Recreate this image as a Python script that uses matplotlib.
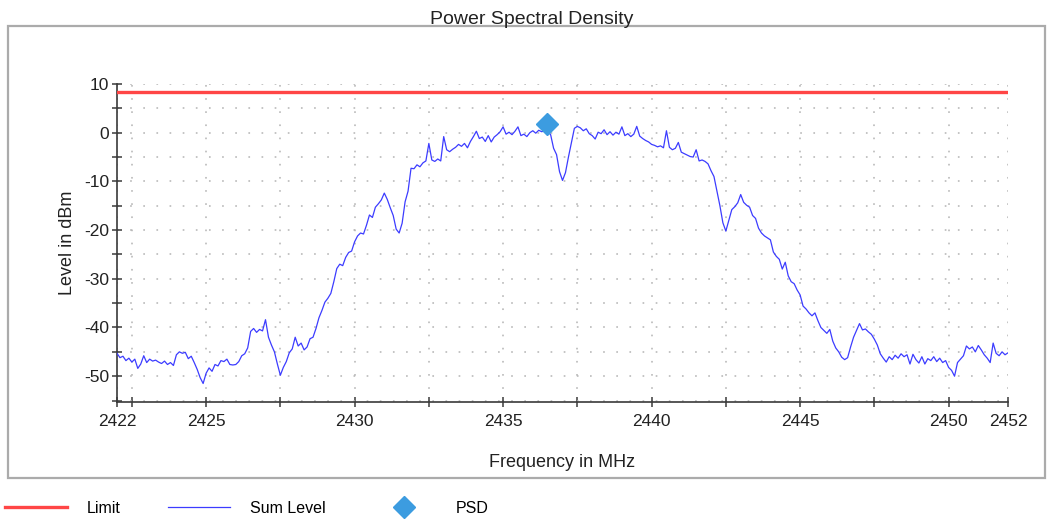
import numpy as np
import matplotlib
matplotlib.use('Agg')
import matplotlib.pyplot as plt
from matplotlib.lines import Line2D
from matplotlib.patches import Rectangle

plt.rcParams['font.family'] = ['Liberation Sans', 'DejaVu Sans']
plt.rcParams['axes.unicode_minus'] = False

# ── Data ──────────────────────────────────────────────────────────────────
F_START = 2422.0   # MHz, first sample of the sweep
F_STEP = 0.1       # MHz between samples
sum_level = [
    # 2422.0 - 2422.9
    -45.3, -46.2, -45.9, -46.8, -46.3, -47.1, -46.5, -48.4, -47.5, -45.8,
    # 2423
    -47.2, -46.5, -46.9, -46.7, -47.1, -47.4, -46.9, -47.6, -47.2, -47.8,
    # 2424
    -45.6, -45.0, -45.3, -45.1, -46.4, -45.9, -47.2, -48.6, -50.3, -51.5,
    # 2425
    -49.4, -48.3, -49.0, -47.6, -47.9, -46.8, -47.0, -46.5, -47.6, -47.7,
    # 2426
    -47.6, -47.0, -45.8, -45.4, -44.2, -40.8, -40.2, -41.0, -40.4, -40.7,
    # 2427
    -38.4, -42.0, -43.6, -45.0, -47.5, -49.8, -48.2, -47.0, -45.2, -44.4,
    # 2428
    -42.0, -43.8, -43.2, -44.6, -44.0, -42.3, -42.0, -40.2, -38.0, -36.5,
    # 2429
    -34.8, -34.0, -33.0, -30.6, -27.9, -27.0, -27.3, -25.6, -24.6, -24.3,
    # 2430
    -22.4, -21.2, -20.6, -20.8, -19.0, -16.9, -17.4, -15.3, -14.6, -13.8,
    # 2431
    -12.4, -13.7, -15.4, -17.0, -19.8, -20.6, -18.6, -14.2, -12.0, -7.3,
    # 2432
    -7.4, -6.6, -7.0, -6.2, -5.8, -2.2, -5.6, -5.9, -5.4, -5.8,
    # 2433
    -0.8, -3.5, -3.9, -3.4, -3.0, -2.4, -2.8, -2.2, -3.1, -1.8,
    # 2434
    -0.8, 0.3, -1.2, -0.9, -1.8, -0.6, -1.9, -0.9, -0.4, 0.2,
    # 2435
    1.2, -0.3, 0.1, -0.4, 0.3, 1.2, -0.6, -0.3, -0.8, 0.0,
    # 2436
    0.4, -0.1, 0.5, 0.2, 0.4, 0.3, -0.4, -3.2, -4.5, -8.0,
    # 2437
    -9.8, -8.2, -5.0, -2.0, 0.9, 1.3, 1.0, 0.4, 0.8, -0.2,
    # 2438
    -0.6, -1.3, 0.1, -0.2, 0.6, -0.4, 0.2, -0.5, 0.1, -0.3,
    # 2439
    1.2, -0.6, -0.2, -0.8, -0.3, 1.3, -0.7, -1.2, -1.6, -1.9,
    # 2440
    -2.4, -2.6, -2.9, -2.7, -3.1, 0.4, -3.0, -3.5, -3.2, -2.0,
    # 2441
    -4.0, -4.3, -4.6, -4.9, -5.0, -3.5, -5.8, -5.6, -5.9, -6.4,
    # 2442
    -7.8, -9.0, -12.0, -15.0, -18.5, -20.2, -18.0, -15.8, -15.2, -14.4,
    # 2443
    -12.7, -14.3, -14.9, -15.3, -17.0, -17.6, -19.6, -20.6, -21.2, -21.6,
    # 2444
    -22.0, -24.5, -25.4, -26.0, -28.0, -26.6, -29.4, -30.6, -31.0, -32.3,
    # 2445
    -33.3, -35.6, -36.2, -37.0, -37.6, -37.0, -38.6, -40.0, -40.6, -41.2,
    # 2446
    -40.4, -42.8, -44.2, -45.0, -46.1, -46.6, -46.2, -44.0, -42.0, -40.6,
    # 2447
    -39.2, -40.5, -40.3, -40.9, -41.4, -42.4, -43.6, -45.4, -46.3, -47.1,
    # 2448
    -46.0, -46.6, -45.7, -46.3, -45.4, -46.0, -45.6, -47.5, -45.5, -46.6,
    # 2449
    -47.3, -46.0, -47.5, -46.4, -46.8, -46.0, -47.0, -46.3, -47.2, -46.8,
    # 2450
    -48.2, -48.8, -50.0, -47.2, -46.5, -45.8, -43.8, -44.4, -44.0, -45.0,
    # 2451
    -43.7, -44.6, -45.6, -46.3, -47.2, -43.2, -45.3, -45.8, -45.0, -45.6,
    # 2452.0
    -45.2,
]
limit_level = 8.3               # dBm
psd_freq, psd_level = 2436.48, 1.8

x_major = [2422, 2425, 2430, 2435, 2440, 2445, 2450, 2452]
x_minor = [2422.5, 2427.5, 2432.5, 2437.5, 2442.5, 2447.5]
y_major = [-50, -40, -30, -20, -10, 0, 10]
y_minor = [-55, -45, -35, -25, -15, -5, 5]

C_LIMIT = '#ff4646'
C_SUM = '#3c3cff'
C_PSD = '#3c9ce0'
C_AXIS = '#3a3a3a'
C_GRID = '#b4b4b4'

freq = F_START + F_STEP * np.arange(len(sum_level))

fig = plt.figure(figsize=(10.47, 5.2), dpi=100)
ax = fig.add_axes([117 / 1047, 1 - 402 / 520, (1008 - 117) / 1047, (402 - 84) / 520])

# grey frame round the plot area
fig.patches.append(Rectangle((8 / 1047, 1 - 478 / 520), 1037 / 1047, 452 / 520,
                             transform=fig.transFigure, fill=False,
                             ec='#ababab', lw=1.6))

ax.axhline(limit_level, color=C_LIMIT, lw=2.4, zorder=3)
ax.plot(freq, sum_level, color=C_SUM, lw=0.9, zorder=3)
ax.plot([psd_freq], [psd_level], marker='D', ms=11, color=C_PSD,
        ls='none', zorder=4)

ax.set_xlim(2422, 2452)
ax.set_ylim(-55.3, 10)
ax.set_xticks(x_major)
ax.set_xticks(x_minor, minor=True)
ax.set_yticks(y_major)
ax.set_yticks(y_minor, minor=True)
ax.set_xticklabels([str(v) for v in x_major])

for side in ('top', 'right'):
    ax.spines[side].set_visible(False)
for side in ('left', 'bottom'):
    ax.spines[side].set_color(C_AXIS)
    ax.spines[side].set_linewidth(1.2)
ax.tick_params(which='both', direction='inout', length=7, width=1.1,
               color=C_AXIS, labelsize=12.5, labelcolor='#222222')
ax.tick_params(axis='y', pad=2)
ax.tick_params(axis='x', pad=5)
ax.grid(True, which='both', color=C_GRID, lw=1.1, ls=(0, (1.1, 7.5)))
ax.set_axisbelow(True)

ax.set_xlabel('Frequency in MHz', fontsize=13, color='#222222', labelpad=18)
ax.set_ylabel('Level in dBm', fontsize=13, color='#222222', labelpad=6)
fig.text(0.508, 0.963, 'Power Spectral Density', ha='center', va='center',
         fontsize=14, color='#222222')

handles = [Line2D([], [], color=C_LIMIT, lw=2.4),
           Line2D([], [], color=C_SUM, lw=0.9),
           Line2D([], [], color=C_PSD, marker='D', ms=11, ls='none')]
fig.legend(handles, ['Limit', 'Sum Level', 'PSD'], loc='center left',
           bbox_to_anchor=(0.0, 0.023), ncol=3, frameon=False, fontsize=11.5,
           handlelength=3.9, handletextpad=1.25, columnspacing=2.95,
           borderaxespad=0, borderpad=0.3)

fig.savefig('out.png', dpi=100)
